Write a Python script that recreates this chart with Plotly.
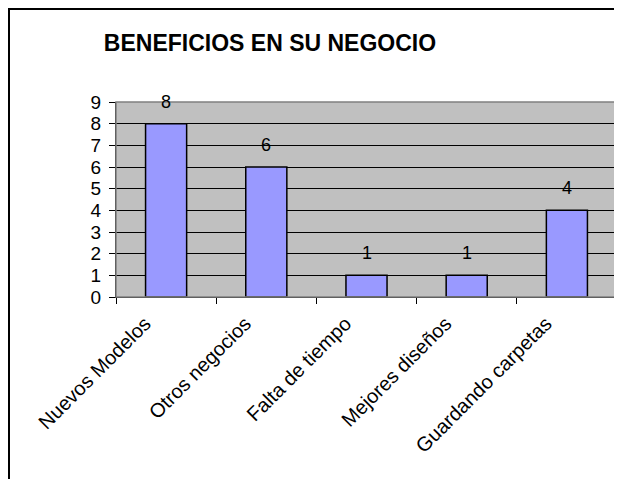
import plotly.graph_objects as go

categories = ["Nuevos Modelos", "Otros negocios", "Falta de tiempo", "Mejores diseños", "Guardando carpetas"]
values = [8, 6, 1, 1, 4]
y_ticks = list(range(0, 10))

# page body has an 8px margin, so figure coords = screen coords - 8;
# figure sized to fit the 622x479 window without overflow
W, H = 614, 471
L, R, T, B = 108, 5, 94, 182
pw = W - L - R
ph = H - T - B

def px_to_paper_x(px):
    return (px - L) / pw

def px_to_paper_y(py):
    return (H - B - py) / ph

FONT = "Liberation Sans, Arial, sans-serif"

fig = go.Figure()
fig.add_trace(go.Bar(
    x=categories, y=values, width=0.41,
    marker=dict(color="#9999FF", line=dict(color="black", width=1.5)),
    hoverinfo="skip",
))

annotations = []
for c, v in zip(categories, values):
    annotations.append(dict(x=c, y=v, xref="x", yref="y", text=str(v), showarrow=False,
                            yanchor="bottom", yshift=10, font=dict(family=FONT, size=18, color="black")))

frame = dict(color="black", width=2)
shapes = [
    # outer chart frame: left and top edges (right/bottom lie outside the picture)
    dict(type="line", xref="paper", yref="paper",
         x0=px_to_paper_x(1), x1=px_to_paper_x(1), y0=px_to_paper_y(H), y1=px_to_paper_y(1),
         line=frame, layer="below"),
    dict(type="line", xref="paper", yref="paper",
         x0=px_to_paper_x(0), x1=px_to_paper_x(W), y0=px_to_paper_y(1), y1=px_to_paper_y(1),
         line=frame, layer="below"),
    # plot area border
    dict(type="rect", xref="paper", yref="paper", x0=0, x1=1, y0=0, y1=1,
         line=dict(color="#808080", width=1.5), fillcolor="rgba(0,0,0,0)", layer="above"),
]

fig.update_layout(
    width=W, height=H,
    margin=dict(l=L, r=R, t=T, b=B, pad=0),
    paper_bgcolor="white", plot_bgcolor="#C0C0C0",
    showlegend=False,
    title=dict(text="<b>BENEFICIOS EN SU NEGOCIO</b>", x=262 / W, xanchor="center",
               y=1 - 35 / H, yanchor="middle", font=dict(family=FONT, size=23, color="black")),
    font=dict(family=FONT, color="black"),
    annotations=annotations,
    shapes=shapes,
)
fig.update_xaxes(
    type="category", tickson="boundaries", ticks="outside", ticklen=6, tickcolor="black",
    tickwidth=1, showline=True, linecolor="black", linewidth=1, showgrid=False,
    tickangle=-45, tickfont=dict(family=FONT, size=20, color="black"), range=[-0.5, 4.5],
    ticklabelshift=-21, ticklabelstandoff=6,
)
fig.update_yaxes(
    range=[0, 9], tickvals=y_ticks, ticks="outside", ticklen=6, tickcolor="black", tickwidth=1,
    showline=True, linecolor="black", linewidth=1, showgrid=True, gridcolor="black", gridwidth=1,
    zeroline=False, tickfont=dict(family=FONT, size=19, color="black"), ticklabelstandoff=4,
)

fig.write_html("out.html", config={"displayModeBar": False})
